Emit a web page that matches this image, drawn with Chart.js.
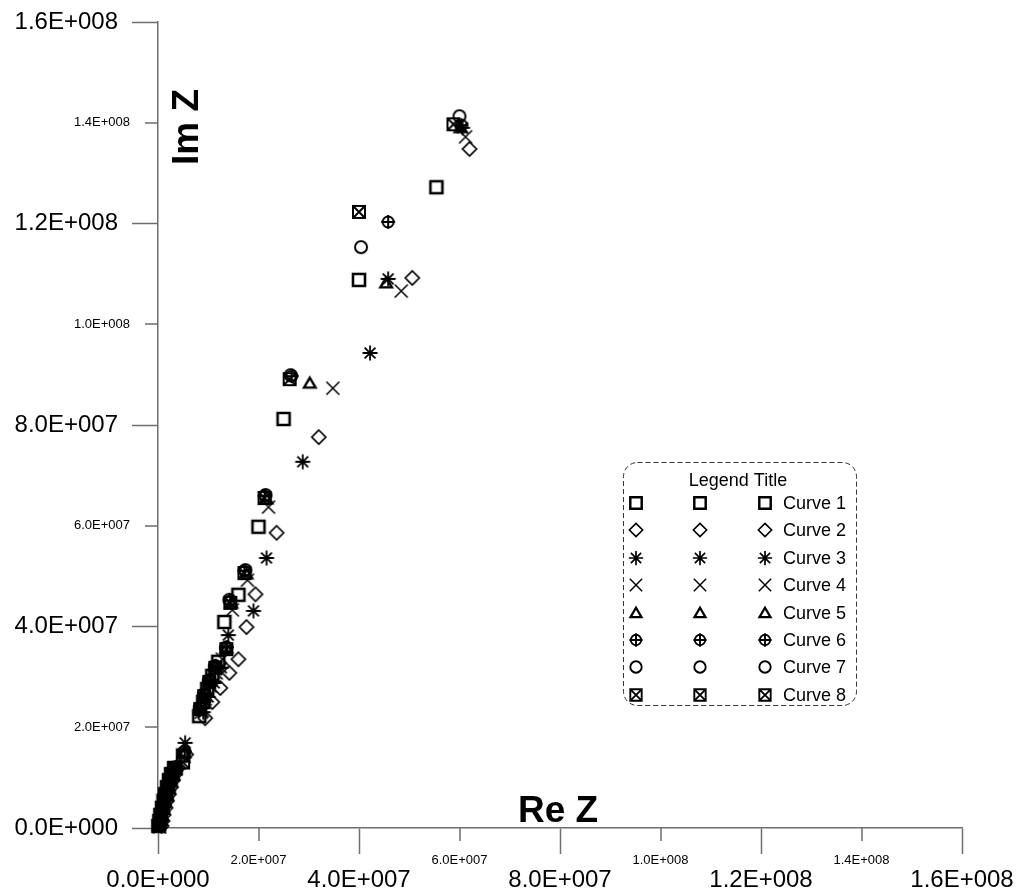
<!DOCTYPE html>
<html>
<head>
<meta charset="utf-8">
<title>Im Z vs Re Z</title>
<script src="https://cdn.jsdelivr.net/npm/chart.js@4.4.0/dist/chart.umd.min.js"></script>
<style>
  html, body { margin: 0; padding: 0; background: #fff; }
</style>
</head>
<body>
<canvas id="myChart" width="1016" height="892"></canvas>
<script>
// all impedance values below are in units of 1E+006
const UNIT = 1e6;

const curveNames = ['Curve 1', 'Curve 2', 'Curve 3', 'Curve 4', 'Curve 5', 'Curve 6', 'Curve 7', 'Curve 8'];
const curveMarkers = ['square', 'diamond', 'star', 'x', 'triangle', 'crosshair', 'circle', 'squarex'];

const re1 = [0.1, 0.3, 0.5, 0.8, 1.1, 1.4, 1.8, 2.2, 2.6, 3.2, 5.0, 8.2, 9.0, 9.8, 10.8, 12.0, 13.2, 16.0, 20.0, 25.0, 40.0, 55.4];
const im1 = [0.4, 1.4, 2.6, 4.0, 5.4, 6.7, 8.1, 9.5, 10.7, 11.9, 14.4, 22.2, 25.0, 27.6, 30.2, 33.0, 40.9, 46.3, 59.8, 81.2, 108.8, 127.2];

const re2 = [0.7, 0.9, 1.1, 1.5, 1.8, 2.2, 2.6, 3.0, 3.4, 4.0, 5.6, 9.4, 10.8, 12.4, 14.2, 16.0, 17.6, 19.4, 23.6, 32.0, 50.6, 62.0];
const im2 = [0.4, 1.4, 2.6, 4.0, 5.4, 6.7, 8.1, 9.5, 10.7, 11.9, 14.6, 21.8, 25.0, 27.8, 30.8, 33.5, 39.9, 46.4, 58.6, 77.6, 109.2, 134.8];

const re3 = [0.5, 0.7, 0.9, 1.3, 1.6, 2.0, 2.4, 2.8, 3.2, 3.8, 5.4, 9.0, 10.0, 11.2, 12.6, 14.0, 19.0, 21.6, 28.8, 42.2, 45.8, 60.6];
const im3 = [0.6, 1.6, 2.8, 4.2, 5.6, 7.0, 8.4, 9.8, 11.0, 12.2, 16.9, 23.0, 26.0, 28.8, 31.8, 38.3, 43.1, 53.6, 72.7, 94.3, 109.0, 139.0];

const re4 = [0.3, 0.5, 0.7, 1.1, 1.4, 1.8, 2.2, 2.6, 3.0, 3.6, 5.2, 8.6, 9.4, 10.4, 11.6, 12.8, 14.8, 17.8, 22.0, 34.8, 48.4, 61.2];
const im4 = [0.2, 1.2, 2.4, 3.8, 5.2, 6.5, 7.9, 9.3, 10.5, 11.7, 14.2, 23.0, 25.6, 28.2, 30.8, 33.5, 43.3, 49.2, 63.7, 87.3, 106.6, 137.2];

const re5 = [0.2, 0.4, 0.6, 1.0, 1.3, 1.7, 2.1, 2.5, 2.9, 3.5, 5.2, 8.4, 9.2, 10.2, 11.4, 13.6, 14.6, 17.6, 21.6, 30.2, 45.4, 60.2];
const im5 = [0.5, 1.5, 2.7, 4.1, 5.5, 6.8, 8.2, 9.6, 10.8, 12.0, 14.9, 23.8, 26.4, 29.2, 32.0, 35.7, 44.6, 50.4, 65.3, 88.3, 108.2, 139.0];

const re6 = [0.2, 0.4, 0.6, 1.0, 1.3, 1.7, 2.1, 2.5, 2.9, 3.5, 5.3, 8.5, 9.3, 10.3, 11.5, 13.7, 14.4, 17.2, 21.2, 26.6, 45.8, 60.4];
const im6 = [0.6, 1.6, 2.8, 4.2, 5.6, 6.9, 8.3, 9.7, 10.9, 12.1, 15.2, 24.0, 26.6, 29.4, 32.2, 35.9, 45.1, 51.0, 65.9, 89.7, 120.3, 139.5];

const re7 = [0.2, 0.4, 0.6, 1.0, 1.3, 1.7, 2.1, 2.5, 2.9, 3.5, 5.2, 8.3, 9.1, 10.1, 11.3, 13.5, 14.2, 17.4, 21.4, 26.4, 40.4, 60.0];
const im7 = [0.5, 1.5, 2.7, 4.1, 5.5, 6.8, 8.2, 9.6, 10.8, 12.0, 15.0, 23.9, 26.5, 29.3, 32.1, 35.8, 45.3, 51.2, 66.1, 89.9, 115.3, 141.3];

const re8 = [0.1, 0.3, 0.5, 0.9, 1.2, 1.6, 2.0, 2.4, 2.8, 3.4, 5.0, 8.4, 9.2, 10.2, 11.4, 13.6, 14.4, 17.2, 21.2, 26.2, 40.0, 58.8];
const im8 = [0.4, 1.4, 2.6, 4.0, 5.4, 6.7, 8.1, 9.5, 10.7, 11.9, 13.0, 23.6, 26.2, 29.0, 31.8, 35.5, 44.7, 50.6, 65.5, 89.1, 122.3, 139.7];

const reSeries = [re1, re2, re3, re4, re5, re6, re7, re8];
const imSeries = [im1, im2, im3, im4, im5, im6, im7, im8];

// axis ticks (same for both axes)
const axisMax = 1.6e8;
const majorTicks = [0, 4e7, 8e7, 1.2e8, 1.6e8];
const minorTicks = [2e7, 6e7, 1e8, 1.4e8];

const FONT = 'Arial, "Liberation Sans", sans-serif';
const NARROW = '"Liberation Sans Narrow", "Arial Narrow", Arial, sans-serif';
const AXIS_GREY = '#6e6e6e';

function sci(v) {
    if (v === 0) return '0.0E+000';
    const e = Math.floor(Math.log10(v) + 1e-9);
    const m = v / Math.pow(10, e);
    return m.toFixed(1) + 'E+' + String(e).padStart(3, '0');
}

// little canvases used as point styles
function makeMarker(kind, k) {
    const size = 2 * Math.ceil(11 * k);
    const c = document.createElement('canvas');
    c.width = size;
    c.height = size;
    const g = c.getContext('2d');
    const m = size / 2;
    g.strokeStyle = '#000';
    g.beginPath();
    if (kind === 'square') {
        const h = 6 * k;
        g.lineWidth = 2.6 * k;
        g.rect(m - h, m - h, 2 * h, 2 * h);
    } else if (kind === 'diamond') {
        const h = 7 * k;
        g.lineWidth = 1.7 * k;
        g.moveTo(m, m - h); g.lineTo(m + h, m); g.lineTo(m, m + h); g.lineTo(m - h, m); g.closePath();
    } else if (kind === 'star') {
        const h = 7.5 * k, d = 7.5 * k * 0.72;
        g.lineWidth = 1.8 * k;
        g.moveTo(m - h, m); g.lineTo(m + h, m);
        g.moveTo(m, m - h); g.lineTo(m, m + h);
        g.moveTo(m - d, m - d); g.lineTo(m + d, m + d);
        g.moveTo(m + d, m - d); g.lineTo(m - d, m + d);
    } else if (kind === 'x') {
        const h = 6.5 * k;
        g.lineWidth = 1.5 * k;
        g.moveTo(m - h, m - h); g.lineTo(m + h, m + h);
        g.moveTo(m + h, m - h); g.lineTo(m - h, m + h);
    } else if (kind === 'triangle') {
        const h = 5.5 * k;
        g.lineWidth = 2.4 * k;
        g.moveTo(m, m - h); g.lineTo(m + h * 1.05, m + h * 0.8); g.lineTo(m - h * 1.05, m + h * 0.8); g.closePath();
    } else if (kind === 'crosshair') {
        const r = 5.5 * k, a = 7 * k;
        g.lineWidth = 2 * k;
        g.arc(m, m, r, 0, Math.PI * 2);
        g.moveTo(m - a, m); g.lineTo(m + a, m);
        g.moveTo(m, m - a); g.lineTo(m, m + a);
    } else if (kind === 'circle') {
        g.lineWidth = 2 * k;
        g.arc(m, m, 6 * k, 0, Math.PI * 2);
    } else if (kind === 'squarex') {
        const h = 6 * k;
        g.lineWidth = 2 * k;
        g.rect(m - h, m - h, 2 * h, 2 * h);
        g.moveTo(m - h, m - h); g.lineTo(m + h, m + h);
        g.moveTo(m + h, m - h); g.lineTo(m - h, m + h);
    }
    g.stroke();
    return c;
}

const plotMarkers = {};
const legendMarkers = {};
curveMarkers.forEach(kind => {
    plotMarkers[kind] = makeMarker(kind, 1);
    legendMarkers[kind] = makeMarker(kind, 0.95);
});

const datasets = curveNames.map((name, i) => ({
    label: name,
    data: reSeries[i].map((r, j) => ({ x: r * UNIT, y: imSeries[i][j] * UNIT })),
    pointStyle: plotMarkers[curveMarkers[i]],
    pointRadius: 6,
    clip: false
}));

// minor ticks, axis titles and the boxed legend
const decor = {
    id: 'decor',
    afterDraw(chart) {
        const { ctx, scales: { x, y } } = chart;
        const xAxisY = y.getPixelForValue(0);
        const yAxisX = x.getPixelForValue(0);
        ctx.save();

        ctx.strokeStyle = AXIS_GREY;
        ctx.lineWidth = 1.5;
        ctx.beginPath();
        minorTicks.forEach(v => {
            const px = Math.round(x.getPixelForValue(v));
            ctx.moveTo(px, xAxisY);
            ctx.lineTo(px, xAxisY + 13);
            const py = Math.round(y.getPixelForValue(v));
            ctx.moveTo(yAxisX, py);
            ctx.lineTo(yAxisX - 13, py);
        });
        ctx.stroke();

        ctx.fillStyle = '#000';
        ctx.font = '13px ' + NARROW;
        ctx.textBaseline = 'middle';
        minorTicks.forEach(v => {
            ctx.textAlign = 'center';
            ctx.fillText(sci(v), x.getPixelForValue(v), xAxisY + 32);
            ctx.textAlign = 'right';
            ctx.fillText(sci(v), yAxisX - 28, y.getPixelForValue(v));
        });

        // axis titles sit inside the plot
        ctx.font = 'bold 37px ' + FONT;
        ctx.textBaseline = 'alphabetic';
        ctx.textAlign = 'center';
        ctx.fillText('Re Z', 558, 822);
        ctx.save();
        ctx.translate(198, 127);
        ctx.rotate(-Math.PI / 2);
        ctx.fillText('Im Z', 0, 0);
        ctx.restore();

        // legend
        ctx.strokeStyle = '#333';
        ctx.lineWidth = 1;
        ctx.setLineDash([5, 3]);
        ctx.beginPath();
        ctx.roundRect(623.5, 462.5, 233, 243, 14);
        ctx.stroke();
        ctx.setLineDash([]);

        ctx.font = '18px ' + FONT;
        ctx.textAlign = 'center';
        ctx.textBaseline = 'middle';
        ctx.fillText('Legend Title', 738, 481);
        ctx.textAlign = 'left';
        curveNames.forEach((name, i) => {
            const cy = 503 + i * 27.4;
            const mk = legendMarkers[curveMarkers[i]];
            [636, 700, 765].forEach(cx => {
                ctx.drawImage(mk, Math.round(cx - mk.width / 2), Math.round(cy - mk.height / 2));
            });
            ctx.fillText(name, 783, cy + 1);
        });
        ctx.restore();
    }
};

const ctx = document.getElementById('myChart').getContext('2d');
const myChart = new Chart(ctx, {
    type: 'scatter',
    data: { datasets: datasets },
    options: {
        responsive: false,
        animation: false,
        layout: { padding: { top: 22, right: 54, left: 0, bottom: 0 } },
        plugins: {
            legend: { display: false },
            tooltip: { enabled: false }
        },
        scales: {
            x: {
                type: 'linear',
                position: 'bottom',
                min: 0,
                max: axisMax,
                afterFit: (s) => { s.height = 64; s.paddingLeft = 0; s.paddingRight = 0; },
                afterBuildTicks: (s) => { s.ticks = majorTicks.map(v => ({ value: v })); },
                ticks: {
                    callback: (v) => sci(v),
                    font: { family: FONT, size: 24 },
                    color: '#000',
                    padding: 12,
                    maxRotation: 0,
                    autoSkip: false
                },
                grid: { drawOnChartArea: false, tickLength: 26, tickColor: AXIS_GREY, tickWidth: 1.5 },
                border: { color: AXIS_GREY, width: 1.5 }
            },
            y: {
                type: 'linear',
                position: 'left',
                min: 0,
                max: axisMax,
                afterFit: (s) => { s.width = 158; s.paddingTop = 0; s.paddingBottom = 0; },
                afterBuildTicks: (s) => { s.ticks = majorTicks.map(v => ({ value: v })); },
                ticks: {
                    callback: (v) => sci(v),
                    font: { family: FONT, size: 24 },
                    color: '#000',
                    padding: 14,
                    autoSkip: false
                },
                grid: { drawOnChartArea: false, tickLength: 26, tickColor: AXIS_GREY, tickWidth: 1.5 },
                border: { color: AXIS_GREY, width: 1.5 }
            }
        }
    },
    plugins: [decor]
});
</script>
</body>
</html>
